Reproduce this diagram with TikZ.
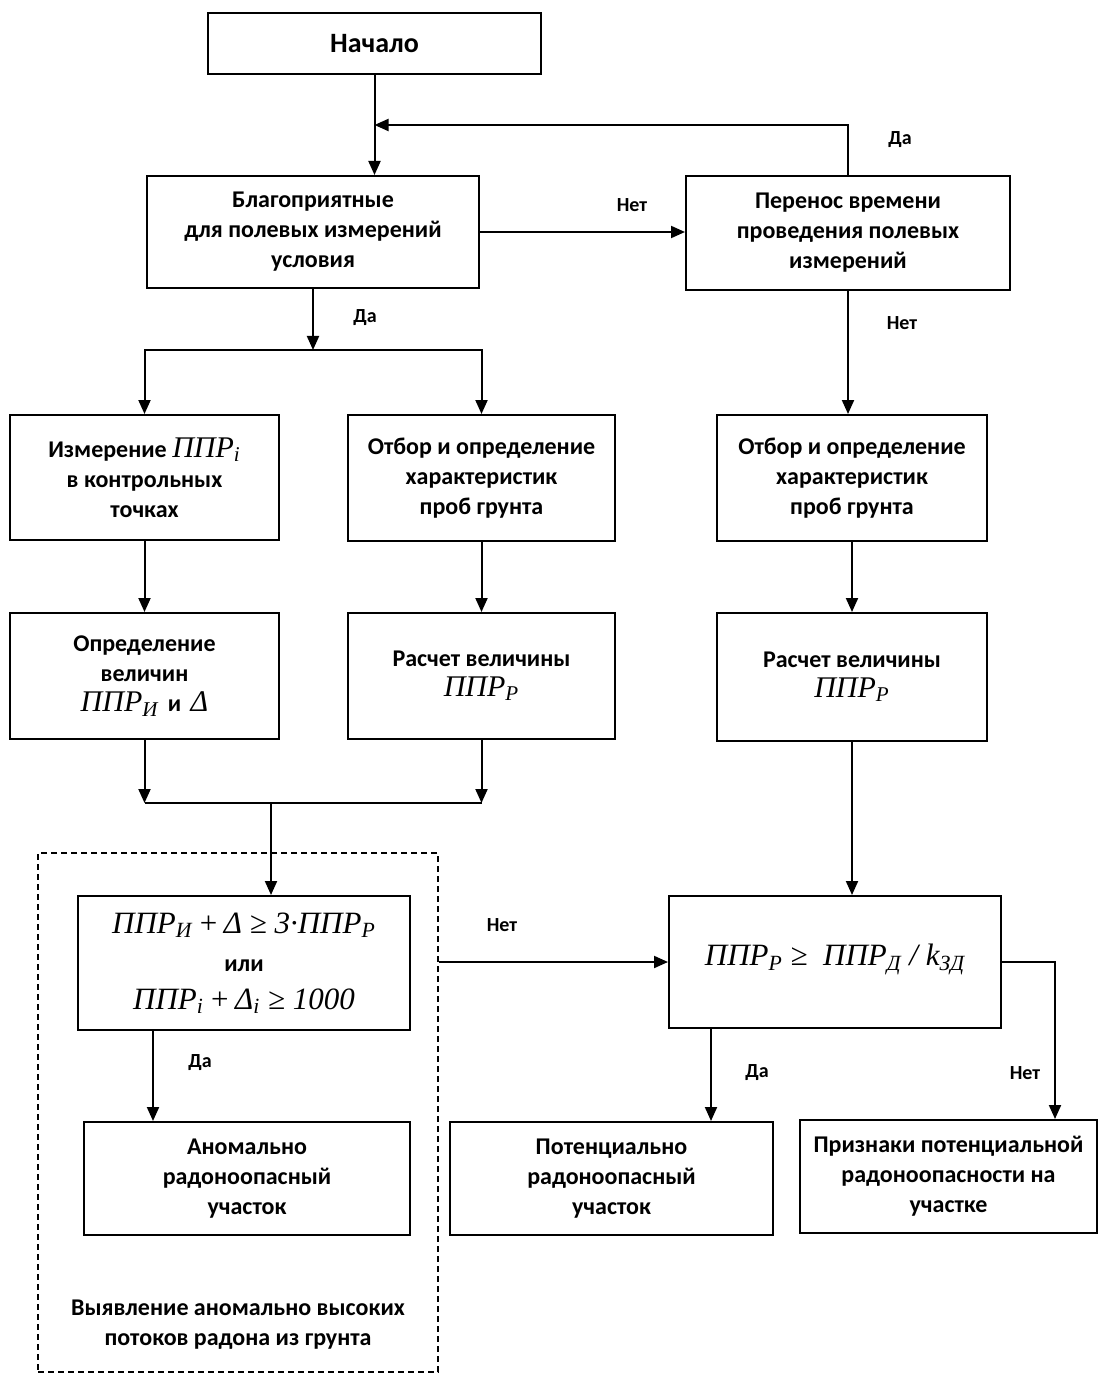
\documentclass[tikz,border=0pt]{standalone}
\usepackage{fontspec}
\setmainfont{Carlito}
\newfontfamily\tnr{Liberation Serif}
\usetikzlibrary{arrows.meta}
\newcommand{\frm}[1]{\tnr\itshape\mdseries\fontsize{#1}{19}\selectfont}
\tikzset{
  blok/.style={draw, line width=1pt, align=center, inner sep=2pt,
    font=\bfseries\fontsize{12}{15}\selectfont},
  strelka/.style={line width=1pt, -{Triangle[length=7pt,width=6pt]}},
  linia/.style={line width=1pt},
  metka/.style={font=\bfseries\fontsize{10}{12}\selectfont},
}
\newcommand{\blok}[6]{\node[blok, minimum width=#4*0.5pt, minimum height=#5*0.5pt] (#1) at (#2,#3) {#6};}

\begin{document}
\begin{tikzpicture}[x=0.5pt,y=-0.5pt]
    \useasboundingbox (0,0) rectangle (1099,1374);
    % blocks
    \node[blok, minimum width=333*0.5pt, minimum height=61*0.5pt, font=\bfseries\fontsize{14}{16}\selectfont] (nach) at (374.5,43.5) {Начало};
    \blok{blag}{313}{232}{332}{112}{Благоприятные\\для полевых измерений\\условия}
    \blok{pern}{848}{233}{324}{114}{Перенос времени\\проведения полевых\\измерений}
    \blok{izm}{144.5}{477.5}{269}{125}{Измерение {\frm{15}ППР\textsubscript{i}}\\в контрольных\\точках}
    \blok{otb1}{481.5}{478}{267}{126}{Отбор и определение\\характеристик\\проб грунта}
    \blok{otb2}{852}{478}{270}{126}{Отбор и определение\\характеристик\\проб грунта}
    \blok{opr}{144.5}{676}{269}{126}{Определение\\величин\\{\frm{15}ППР\textsubscript{И}}\, и\, {\frm{15}Δ}}
    \blok{ras1}{481.5}{676}{267}{126}{Расчет величины\\{\frm{15}ППР\textsubscript{Р}}}
    \blok{ras2}{852}{677}{270}{128}{Расчет величины\\{\frm{15}ППР\textsubscript{Р}}}
    \blok{usl1}{244}{963}{332}{134}{{\frm{15.5}ППР\textsubscript{И}\,+\,Δ ≥ 3·ППР\textsubscript{Р}}\\[4pt]или\\[4pt]{\frm{15.5}ППР\textsubscript{i}\,+\,Δ\textsubscript{i} ≥ 1000}}
    \blok{usl2}{835}{962}{332}{132}{\raisebox{7pt}{\frm{15.5}ППР\textsubscript{Р} ≥ \ ППР\textsubscript{Д} / k\textsubscript{ЗД}}}
    \blok{anom}{247}{1178.5}{326}{113}{Аномально\\радоноопасный\\участок}
    \blok{pot}{611.5}{1178.5}{323}{113}{Потенциально\\радоноопасный\\участок}
    \blok{prizn}{948.5}{1176.5}{297}{113}{Признаки потенциальной\\радоноопасности на\\участке}
    \node[draw, line width=1pt, dash pattern=on 3pt off 2pt, minimum width=400*0.5pt, minimum height=519*0.5pt] (ramka) at (238,1112.5) {};
    \node[blok, draw=none] (ramkatxt) at (238,1325) {Выявление аномально высоких\\потоков радона из грунта};

    % connectors
    \coordinate (v1) at (nach.south |- 0,125);
    \coordinate (r1) at (blag.south |- 0,350);
    \coordinate (s1) at (271,803);
    \coordinate (d1) at (153,0);
    \coordinate (d2) at (711,0);
    \coordinate (d3) at (1055,0);
    \draw[strelka] (nach.south) -- (nach.south |- blag.north);
    \draw[strelka] (pern.north) |- (v1);
    \draw[strelka] (blag.east) -- (blag.east -| pern.west);
    \draw[strelka] (blag.south) -- (r1);
    \draw[strelka] (r1) -| (izm.north);
    \draw[strelka] (r1) -| (otb1.north);
    \draw[strelka] (pern.south) -- (pern.south |- otb2.north);
    \foreach \a/\b in {izm/opr, otb1/ras1, otb2/ras2} {
      \draw[strelka] (\a.south) -- (\a.south |- \b.north);
    }
    \draw[strelka] (opr.south) -- (opr.south |- s1);
    \draw[strelka] (ras1.south) -- (ras1.south |- s1);
    \draw[linia] (opr.south |- s1) -- (ras1.south |- s1);
    \draw[strelka] (s1) -- (s1 |- usl1.north);
    \draw[strelka] (ras2.south) -- (ras2.south |- usl2.north);
    \draw[strelka] (ramka.east |- usl2.west) -- (usl2.west);
    \draw[strelka] (usl1.south -| d1) -- (anom.north -| d1);
    \draw[strelka] (usl2.south -| d2) -- (pot.north -| d2);
    \draw[strelka] (usl2.east) -| (d3 |- prizn.north);

    % labels
    \node[metka] (m1) at (900,140) {Да};
    \node[metka] (m2) at (632,205) {Нет};
    \node[metka] (m3) at (365,318) {Да};
    \node[metka] (m4) at (902,323) {Нет};
    \node[metka] (m5) at (502,925) {Нет};
    \node[metka] (m6) at (200,1063) {Да};
    \node[metka] (m7) at (757,1073) {Да};
    \node[metka] (m8) at (1025,1073) {Нет};
\end{tikzpicture}
\end{document}
